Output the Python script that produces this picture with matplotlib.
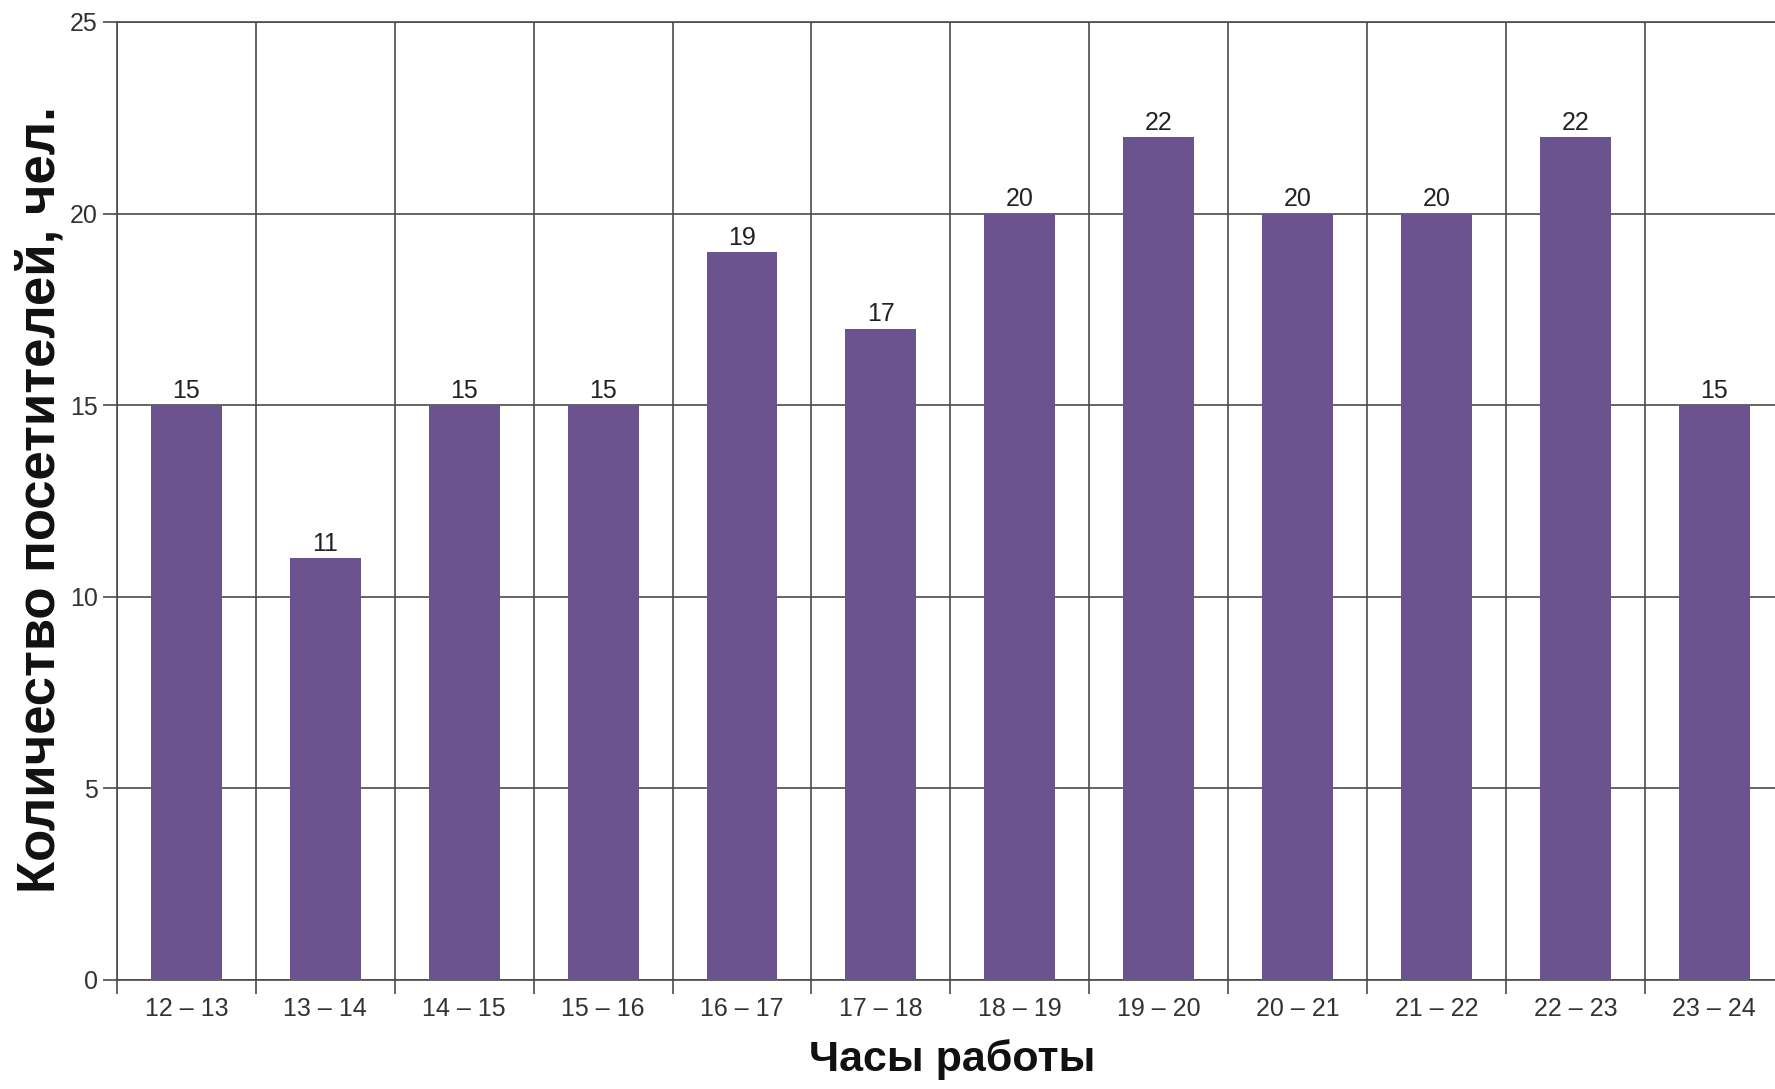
import matplotlib
matplotlib.use("Agg")
import matplotlib.pyplot as plt

# Данные
hours = ["12 – 13", "13 – 14", "14 – 15", "15 – 16", "16 – 17", "17 – 18",
         "18 – 19", "19 – 20", "20 – 21", "21 – 22", "22 – 23", "23 – 24"]
visitors = [15, 11, 15, 15, 19, 17, 20, 22, 20, 20, 22, 15]
y_ticks = [0, 5, 10, 15, 20, 25]

plt.rcParams['font.family'] = ['Liberation Sans', 'DejaVu Sans']

bar_color = '#6b538f'
grid_color = '#4a4a4a'

fig = plt.figure(figsize=(17.75, 10.89), dpi=100)
ax = fig.add_axes([0.0659, 0.1001, 0.939, 0.8797])

x = list(range(len(hours)))
bars = ax.bar(x, visitors, width=0.51, color=bar_color, zorder=3)

# подписи значений над столбцами
for xi, v in zip(x, visitors):
    ax.text(xi, v + 0.06, str(v), ha='center', va='bottom',
            fontsize=18, color='#222222', zorder=4)

ax.set_xlim(-0.5, len(hours) - 0.5)
ax.set_ylim(0, 25)
ax.set_yticks(y_ticks)
ax.set_xticks(x)
ax.set_xticklabels(hours)
ax.set_xticks([i - 0.5 for i in range(len(hours) + 1)], minor=True)

ax.tick_params(axis='x', which='major', length=0, pad=12, labelsize=18, labelcolor='#333333')
ax.tick_params(axis='x', which='minor', length=10, width=1.2, color=grid_color)
ax.tick_params(axis='y', length=10, width=1.2, color=grid_color, pad=4,
               labelsize=18, labelcolor='#333333')

ax.grid(True, axis='y', which='major', color=grid_color, linewidth=1.2, zorder=1)
ax.grid(True, axis='x', which='minor', color=grid_color, linewidth=1.2, zorder=1)

for side in ['top', 'left', 'bottom']:
    ax.spines[side].set_color(grid_color)
    ax.spines[side].set_linewidth(1.2)
ax.spines['right'].set_visible(False)

ax.set_xlabel('Часы работы', fontsize=31, fontweight='bold', color='#111111')
ax.xaxis.set_label_coords(0.501, -0.062)
ax.set_ylabel('Количество посетителей, чел.', fontsize=38, fontweight='bold', color='#111111')
ax.yaxis.set_label_coords(-0.031, 0.501)

fig.savefig('out.png', dpi=100)
